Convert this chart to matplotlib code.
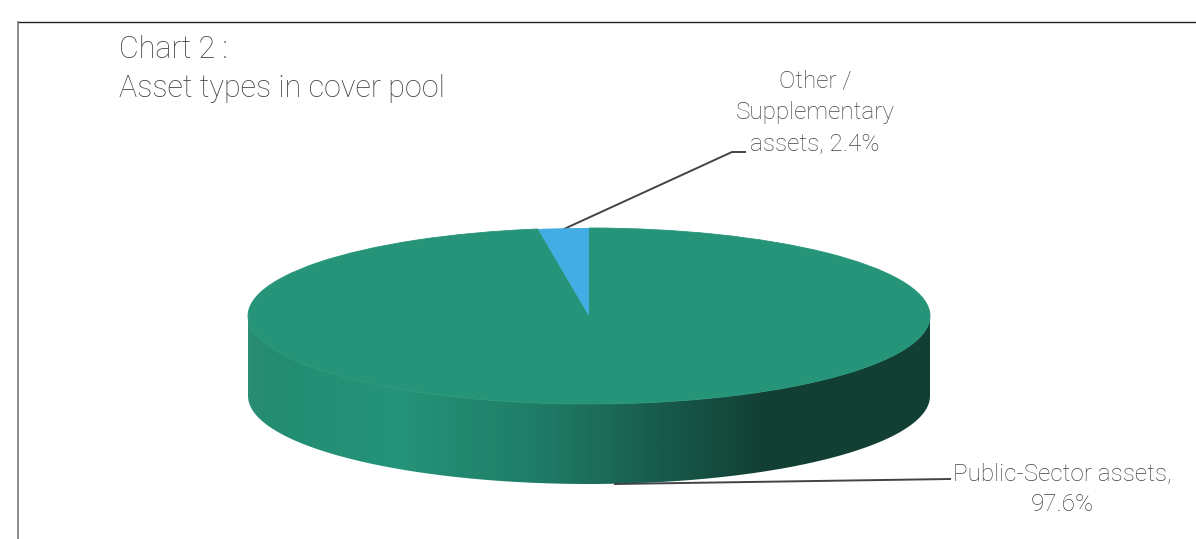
import numpy as np
import matplotlib
matplotlib.use("Agg")
import matplotlib.pyplot as plt
from matplotlib.colors import LinearSegmentedColormap
from matplotlib.patches import PathPatch
from matplotlib.path import Path

categories = ["Public-Sector assets", "Other /\nSupplementary\nassets"]
values = [97.6, 2.4]
title_lines = ["Chart 2 :", "Asset types in cover pool"]

plt.rcParams['font.family'] = ['Roboto', 'DejaVu Sans']
TEXT = '#404346'
LINE = '#404447'
W, H = 1196, 539

fig = plt.figure(figsize=(W / 100, H / 100), dpi=100)
# background axes works in picture pixels
bg = fig.add_axes([0, 0, 1, 1])
bg.set_xlim(0, W)
bg.set_ylim(H, 0)
bg.axis('off')

# frame of the original slide, cut off at right and bottom
bg.plot([18, W], [22, 22], color='#222222', lw=1.0)
bg.plot([18, 18], [22, H], color='#777777', lw=1.2)

# pie geometry
cx, cy, a, b, depth = 589, 316, 341, 88, 80

# side wall of the disc, a gradient clipped to the lower half outline
t = np.linspace(np.pi, 0, 200)
xs = cx + a * np.cos(t)
low = cy + depth + b * np.sin(t)
up = cy + b * np.sin(t)
verts = np.column_stack([np.r_[xs, xs[::-1]], np.r_[low, up[::-1]]])
side = PathPatch(Path(verts), transform=bg.transData, fc='none', ec='none')
bg.add_patch(side)
stops = [(0.0, '#2a8d75'), (0.03, '#238c71'), (0.22, '#25947a'), (0.30, '#228a70'),
         (0.42, '#1f7d67'), (0.50, '#1d6f5c'), (0.60, '#185c4c'), (0.76, '#123f34'), (1.0, '#123f34')]
cmap = LinearSegmentedColormap.from_list('wall', stops)
grad = np.linspace(0, 1, 512)[None, :]
im = bg.imshow(grad, cmap=cmap, aspect='auto', extent=(cx - a, cx + a, cy + depth + b, cy))
im.set_clip_path(side)
bg.set_xlim(0, W)
bg.set_ylim(H, 0)

# top face, pie squashed into the ellipse box
pie_ax = fig.add_axes([(cx - a) / W, 1 - (cy + b) / H, 2 * a / W, 2 * b / H])
wedges, _ = pie_ax.pie(values, colors=['#259478', '#41ade4'], startangle=90, counterclock=False, radius=1)
wedges[0].set_edgecolor('#259478')
wedges[0].set_linewidth(0.6)
pie_ax.set_aspect('auto')
pie_ax.set_xlim(-1, 1)
pie_ax.set_ylim(-1, 1)
pie_ax.patch.set_alpha(0)

# leader lines
bg.plot([564, 732, 745], [229, 152, 152], color=LINE, lw=1.4)
over = fig.add_axes([0, 0, 1, 1])
over.set_xlim(0, W)
over.set_ylim(H, 0)
over.axis('off')
over.plot([615, 950], [484, 479], color=LINE, lw=1.4)

# title and labels
over.text(119, 58, title_lines[0], fontsize=22, fontweight='light', color=TEXT, ha='left', va='baseline')
over.text(119, 97, title_lines[1], fontsize=22, fontweight='light', color=TEXT, ha='left', va='baseline')
over.text(815, 150, f"{categories[1]}, {values[1]}%", fontsize=17.5, fontweight='light', color=TEXT,
          ha='center', va='baseline', linespacing=1.45, multialignment='center')
over.text(1062, 511, f"{categories[0]},\n{values[0]}%", fontsize=17.5, fontweight='light', color=TEXT,
          ha='center', va='baseline', linespacing=1.42, multialignment='center')

fig.savefig('out.png', dpi=100)
